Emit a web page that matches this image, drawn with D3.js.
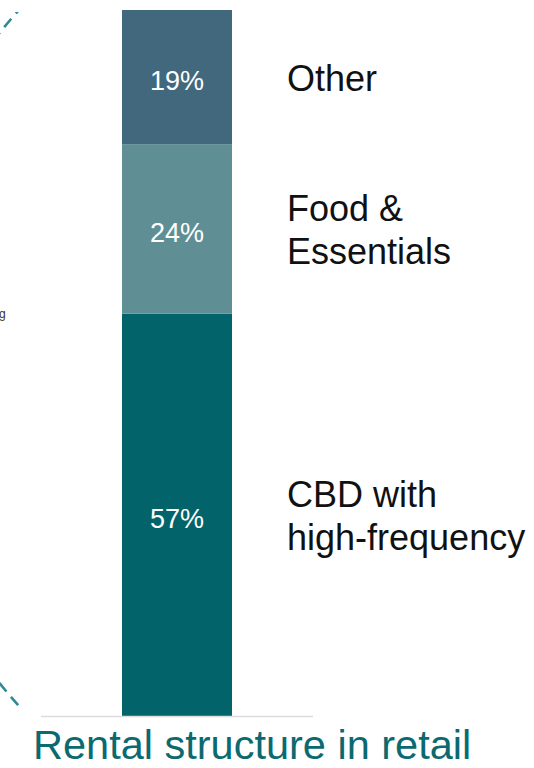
<!DOCTYPE html>
<html>
<head>
<meta charset="utf-8">
<script src="https://cdn.jsdelivr.net/npm/d3@7"></script>
<style>
  html, body { margin: 0; padding: 0; background: #ffffff; }
  svg { display: block; }
  text { font-family: "Liberation Sans", Arial, Helvetica, sans-serif; }
</style>
</head>
<body>
<div id="chart"></div>
<script>
// Rental structure segments, bottom to top
const categories = ["CBD with high-frequency", "Food & Essentials", "Other"];
const labelLines = [["CBD with", "high-frequency"], ["Food &", "Essentials"], ["Other"]];
const shares = [57, 24, 19];
const colors = ["#02646a", "#5f8f95", "#42687e"];
const title = "Rental structure in retail";

const width = 534, height = 768;
const svg = d3.select("#chart").append("svg")
  .attr("width", width).attr("height", height);

// ring is confined to the panel band above the baseline
svg.append("defs").append("clipPath").attr("id", "ring-clip")
  .append("rect").attr("x", -20).attr("y", 12).attr("width", 200).attr("height", 694);

// decorative dashed ring; only its left rim reaches into view
svg.append("circle")
  .attr("clip-path", "url(#ring-clip)")
  .attr("cx", 408).attr("cy", 358).attr("r", 522)
  .attr("fill", "none")
  .attr("stroke", "#2f8a94")
  .attr("stroke-width", 2.6)
  .attr("stroke-dasharray", "11 7");

// fragment of adjacent text at the left edge
svg.append("text")
  .attr("x", -1).attr("y", 318)
  .attr("font-size", 12).attr("fill", "#333")
  .text("g");

const x = d3.scaleBand().domain(["Retail"]).range([122, 232]).padding(0);
const y = d3.scaleLinear().domain([0, 100]).range([716, 10]);

const rows = categories.map((c, i) => ({
  category: c, value: shares[i], lines: labelLines[i], color: colors[i],
  start: d3.sum(shares.slice(0, i))
}));

const seg = svg.append("g");
seg.selectAll("rect").data(rows).join("rect")
  .attr("x", x("Retail"))
  .attr("width", x.bandwidth())
  .attr("y", d => y(d.start + d.value))
  .attr("height", d => y(d.start) - y(d.start + d.value))
  .attr("fill", d => d.color);

// percentage labels inside the segments
seg.selectAll("text.pct").data(rows).join("text")
  .attr("class", "pct")
  .attr("x", x("Retail") + x.bandwidth() / 2)
  .attr("y", d => (y(d.start) + y(d.start + d.value)) / 2 + 13)
  .attr("text-anchor", "middle")
  .attr("font-size", 27)
  .attr("fill", "#ffffff")
  .text(d => d.value + "%");

// category labels to the right, centred on each segment
const lineH = 43;
const lab = svg.append("g");
rows.forEach(d => {
  const mid = (y(d.start) + y(d.start + d.value)) / 2;
  const first = mid - (d.lines.length - 1) * lineH / 2 + 14;
  const t = lab.append("text")
    .attr("font-size", 36).attr("fill", "#111");
  d.lines.forEach((ln, j) => {
    t.append("tspan").attr("x", 287).attr("y", first + j * lineH).text(ln);
  });
});

// baseline
svg.append("line")
  .attr("x1", 41).attr("x2", 313)
  .attr("y1", 716.5).attr("y2", 716.5)
  .attr("stroke", "#dcdcdc").attr("stroke-width", 1.5);

// title
svg.append("text")
  .attr("x", 33).attr("y", 759)
  .attr("font-size", 41.5)
  .attr("fill", "#0b6a70")
  .text(title);
</script>
</body>
</html>
